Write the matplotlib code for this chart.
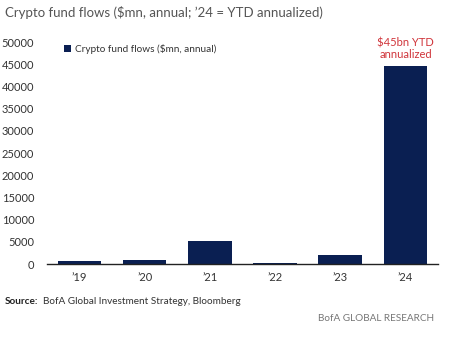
import matplotlib.pyplot as plt

years = ["\u201919", "\u201920", "\u201921", "\u201922", "\u201923", "\u201924"]
flows = [600, 1000, 5300, 150, 2100, 44700]
yticks = [0, 5000, 10000, 15000, 20000, 25000, 30000, 35000, 40000, 45000, 50000]

navy = "#0a1f52"
red = "#d0343a"
grey = "#555555"

plt.rcParams['font.family'] = ['Lato', 'DejaVu Sans']

fig = plt.figure(figsize=(4.68, 3.53), dpi=100)
ax = fig.add_axes([0.1, 0.252, 0.836, 0.629])

ax.bar(range(len(years)), flows, width=0.67, color=navy,
       label="Crypto fund flows ($mn, annual)")

ax.set_xlim(-0.5, 5.5)
ax.set_ylim(0, 50000)
ax.set_yticks(yticks)
ax.set_yticklabels([str(v) for v in yticks])
ax.set_xticks(range(len(years)))
ax.set_xticklabels(years)
ax.tick_params(axis='both', length=0, labelsize=8, colors="#333333")
ax.tick_params(axis='x', pad=6)
ax.tick_params(axis='y', pad=9)
for s in ['top', 'right', 'left']:
    ax.spines[s].set_visible(False)
ax.spines['bottom'].set_color("#222222")
ax.spines['bottom'].set_linewidth(1.0)

ax.annotate("$45bn YTD\nannualized", xy=(5, flows[5]), xytext=(0, 4),
            textcoords='offset points', ha='center', va='bottom',
            color=red, fontsize=8, linespacing=1.1, annotation_clip=False)

leg = ax.legend(loc='upper left', bbox_to_anchor=(0.02, 1.03), frameon=False,
                fontsize=7.2, handlelength=0.7, handleheight=0.7, handletextpad=0.4)
for t in leg.get_texts():
    t.set_color("#333333")

fig.text(0.011, 0.965, "Crypto fund flows ($mn, annual; \u201924 = YTD annualized)",
         fontsize=9.5, color=grey, ha='left', va='center')
fig.text(0.011, 0.145, "Source:", fontsize=7.2, fontweight='bold', color="#222222",
         ha='left', va='center')
fig.text(0.092, 0.145, "BofA Global Investment Strategy, Bloomberg", fontsize=7.2,
         color="#333333", ha='left', va='center')
fig.text(0.927, 0.098, "BofA GLOBAL RESEARCH", fontsize=7.2, color="#777777",
         ha='right', va='center')

fig.savefig("out.png", dpi=100)
